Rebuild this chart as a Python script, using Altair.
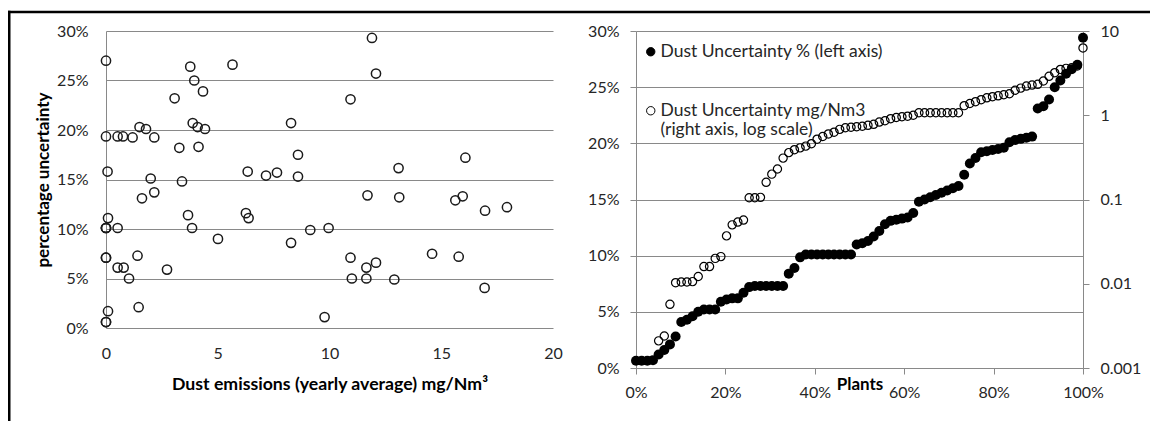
import altair as alt
import pandas as pd

FONT = "Lato"
GRID = "#898989"
TXT = "#262626"

# ---------------- left panel: scatter ----------------
emissions = [0, 3.77, 5.66, 3.95, 4.34, 3.07, 1.5, 1.79, 0, 0.52,
             0.76, 1.19, 2.16, 3.88, 4.1, 4.43, 3.28, 4.14, 8.28, 8.59,
             0.07, 2.0, 3.4, 6.34, 7.16, 7.65, 8.59, 1.61, 2.16, 0.09,
             0, 0, 0, 0.52, 3.67, 3.85, 5.01, 6.26, 6.38, 8.28,
             0, 0, 1.41, 0.52, 0.79, 1.03, 2.73, 0.09, 1.46, 0,
             0, 11.9, 12.08, 10.94, 16.08, 13.09, 11.7, 13.12, 15.96, 15.63,
             16.96, 17.94, 9.14, 9.96, 10.94, 12.08, 11.65, 11.0, 11.65, 12.9,
             14.59, 15.78, 16.94, 9.78]
uncertainty_pct = [27.0, 26.4, 26.6, 25.0, 23.9, 23.2, 20.3, 20.1, 19.35, 19.35,
                   19.35, 19.25, 19.25, 20.7, 20.3, 20.1, 18.2, 18.3, 20.7, 17.5,
                   15.8, 15.1, 14.8, 15.8, 15.4, 15.7, 15.3, 13.1, 13.7, 11.1,
                   10.1, 10.1, 10.1, 10.1, 11.4, 10.1, 9.0, 11.6, 11.1, 8.6,
                   7.1, 7.1, 7.3, 6.1, 6.1, 5.0, 5.9, 1.7, 2.1, 0.6,
                   0.6, 29.3, 25.7, 23.1, 17.2, 16.15, 13.4, 13.2, 13.3, 12.9,
                   11.85, 12.2, 9.9, 10.1, 7.1, 6.6, 6.1, 5.0, 5.0, 4.9,
                   7.5, 7.2, 4.05, 1.1]

# ---------------- right panel: plants ranked ----------------
plant_unc_pct = [0.65, 0.65, 0.65, 0.7, 1.2, 1.6, 2.1, 2.8, 4.1, 4.3,
                 4.6, 5.0, 5.2, 5.2, 5.2, 5.9, 6.1, 6.2, 6.2, 6.7,
                 7.2, 7.3, 7.3, 7.3, 7.3, 7.3, 7.3, 8.4, 8.9, 9.85,
                 10.1, 10.1, 10.1, 10.1, 10.1, 10.1, 10.1, 10.1, 10.1, 11.0,
                 11.1, 11.3, 11.7, 12.2, 12.8, 13.1, 13.2, 13.3, 13.4, 13.8,
                 14.8, 15.0, 15.2, 15.4, 15.6, 15.8, 16.0, 16.2, 17.2, 18.2,
                 18.7, 19.2, 19.3, 19.4, 19.5, 19.6, 20.1, 20.3, 20.4, 20.5,
                 20.6, 23.1, 23.3, 23.9, 25.0, 25.6, 26.2, 26.6, 27.0, 29.4]
plant_unc_mg = [None, None, None, None, 0.0021, 0.0024, 0.0057, 0.0103, 0.0105, 0.0105,
                0.0106, 0.0122, 0.016, 0.016, 0.02, 0.021, 0.037, 0.05, 0.054, 0.057,
                0.105, 0.105, 0.106, 0.16, 0.2, 0.23, 0.31, 0.36, 0.39, 0.41,
                0.43, 0.46, 0.52, 0.56, 0.6, 0.63, 0.68, 0.71, 0.72, 0.73,
                0.74, 0.76, 0.78, 0.83, 0.86, 0.91, 0.94, 0.96, 0.975, 1.0,
                1.07, 1.07, 1.07, 1.07, 1.07, 1.07, 1.07, 1.07, 1.3, 1.38,
                1.45, 1.53, 1.61, 1.66, 1.7, 1.75, 1.8, 1.98, 2.1, 2.22,
                2.28, 2.33, 2.55, 2.9, 3.2, 3.5, 3.6, 3.66, 3.85, 6.3]

S1 = "Dust Uncertainty % (left axis)"
S2 = "Dust Uncertainty mg/Nm3 (right axis, log scale)"
pct_ticks = [0, 5, 10, 15, 20, 25, 30]
emission_ticks = [0, 5, 10, 15, 20]
plant_ticks = [0, 20, 40, 60, 80, 100]
log_ticks = [0.001, 0.01, 0.1, 1, 10]

left_df = pd.DataFrame({"emission": emissions, "unc": uncertainty_pct})
right_df = pd.DataFrame({"pct": plant_unc_pct, "mg": plant_unc_mg})
one = pd.DataFrame({"k": [0]})

# ---------- left ----------
scatter = alt.Chart(left_df).mark_point(
    shape="circle", filled=False, size=85, strokeWidth=1.5, color="#1a1a1a", opacity=1, clip=False
).encode(
    x=alt.X("emission:Q", scale=alt.Scale(domain=[0, 20], nice=False, zero=False),
            axis=alt.Axis(values=emission_ticks, grid=False, domain=False, ticks=False, tickSize=0,
                          labelPadding=25, labelBaseline="middle",
                          title="Dust emissions (yearly average) mg/Nm³",
                          titleFontSize=17.7, titleY=56, titleBaseline="middle")),
    y=alt.Y("unc:Q", scale=alt.Scale(domain=[0, 30], nice=False),
            axis=alt.Axis(values=pct_ticks, labelExpr="datum.value + '%'", grid=True,
                          gridColor=GRID, domain=True, domainColor=GRID, ticks=False, tickSize=0,
                          labelPadding=18, title="percentage uncertainty", titleFontSize=17,
                          titleX=-63, titleY=148.5, titleBaseline="middle", titleAlign="center")),
)
frame_top = alt.Chart(one).mark_rect(color="black", clip=False).encode(
    x=alt.value(-98), x2=alt.value(1044), y=alt.value(-20.25), y2=alt.value(-17.75))
frame_left = alt.Chart(one).mark_rect(color="black", clip=False).encode(
    x=alt.value(-98), x2=alt.value(-95.5), y=alt.value(-20.25), y2=alt.value(390))
left = alt.layer(scatter, frame_top, frame_left).properties(width=447, height=297)

# ---------- right ----------
fill_scale = alt.Scale(domain=[S1, S2], range=["black", "transparent"])
stroke_scale = alt.Scale(domain=[S1, S2], range=["black", "black"])
legend = alt.Legend(
    title=None, orient="none", legendX=536, legendY=12, padding=0,
    labelFont=FONT, labelFontSize=17.5, labelColor=TXT, labelLimit=600, labelOffset=1,
    symbolType="circle", symbolSize=70, symbolStrokeColor="black", symbolStrokeWidth=1,
    rowPadding=40,
    labelExpr="datum.label == '" + S2 + "' ? ['Dust Uncertainty mg/Nm3', '(right axis, log scale)'] : datum.label",
)
x_enc = alt.X("share:Q", scale=alt.Scale(domain=[0, 100], nice=False),
              axis=alt.Axis(values=plant_ticks, labelExpr="datum.value + '%'", grid=False,
                            domainColor=GRID, tickColor=GRID, tickSize=6, labelPadding=18,
                            labelBaseline="middle", title="Plants", titleFontSize=17, titleY=16,
                            titleBaseline="middle"))
base = alt.Chart(right_df).transform_window(
    rank="row_number()"
).transform_joinaggregate(n="count()").transform_calculate(
    share="(datum.rank - 1) / (datum.n - 1) * 100"
)
filled = base.transform_calculate(series="'" + S1 + "'").mark_point(
    shape="circle", filled=True, size=100, strokeWidth=0, opacity=1, clip=False
).encode(
    x=x_enc,
    y=alt.Y("pct:Q", scale=alt.Scale(domain=[0, 30], nice=False),
            axis=alt.Axis(values=pct_ticks, labelExpr="datum.value + '%'", grid=True,
                          gridColor=GRID, domainColor=GRID, tickColor=GRID, tickSize=6,
                          labelPadding=11, title=None, orient="left")),
    fill=alt.Fill("series:N", scale=fill_scale, legend=legend),
    stroke=alt.Stroke("series:N", scale=stroke_scale, legend=legend),
)
opened = base.transform_filter("isValid(datum.mg) && datum.mg > 0").transform_calculate(
    series="'" + S2 + "'"
).mark_point(
    shape="circle", filled=True, size=68, strokeWidth=1.2, opacity=1, clip=False
).encode(
    x=x_enc,
    y=alt.Y("mg:Q", scale=alt.Scale(type="log", domain=[0.001, 10], nice=False),
            axis=alt.Axis(orient="right", values=log_ticks, format="~g", grid=False,
                          domainColor=GRID, tickColor=GRID, tickSize=6, labelPadding=11,
                          title=None)),
    fill=alt.Fill("series:N", scale=fill_scale, legend=legend),
    stroke=alt.Stroke("series:N", scale=stroke_scale, legend=legend),
)
right = alt.layer(filled, opened).resolve_scale(y="independent").properties(
    width=447, height=337)

chart = alt.hconcat(left, right, spacing=83, bounds="flush").properties(
    padding={"left": 0, "top": 2, "right": 0, "bottom": 0},
    background="white",
).configure_view(stroke=None).configure_axis(
    labelFont=FONT, labelFontSize=16, labelColor=TXT, labelFlush=False,
    titleFont=FONT, titleFontSize=16, titleFontWeight="bold", titleColor="black",
)

chart.save("out.html", embed_options={"renderer": "svg", "actions": False})
